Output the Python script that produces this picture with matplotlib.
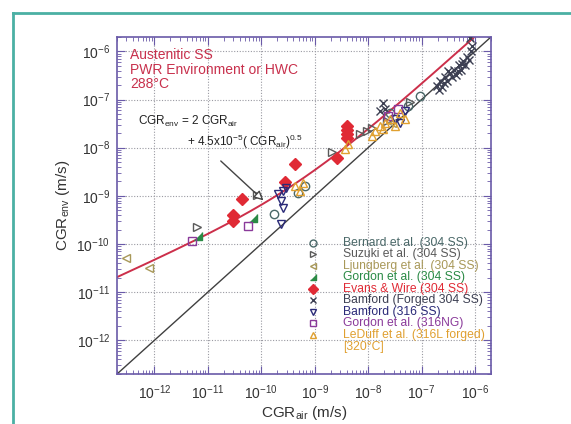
import numpy as np
import matplotlib
matplotlib.use("Agg")
import matplotlib.pyplot as plt
from matplotlib.lines import Line2D
from matplotlib.ticker import LogLocator, NullFormatter, LogFormatterSciNotation

plt.rcParams['font.family'] = ['Liberation Sans', 'DejaVu Sans']
plt.rcParams['mathtext.default'] = 'regular'

# data: (CGR_air, CGR_env) in m/s
bernard_x = [1.7e-10, 4.9e-10, 6.6e-10, 2.6e-8, 5.6e-8, 9.4e-8]
bernard_y = [4.2e-10, 1.15e-9, 1.6e-9, 5.2e-8, 7.3e-8, 1.17e-7]

suzuki_x = [6.3e-12, 8.5e-11, 2.1e-9, 7.1e-9, 9.5e-9, 1.2e-8, 2.3e-8, 6.1e-8]
suzuki_y = [2.3e-10, 1.05e-9, 8.1e-9, 1.9e-8, 2.2e-8, 2.6e-8, 3.5e-8, 9.1e-8]

ljungberg_x = [2.9e-13, 7.8e-13, 2.8e-8]
ljungberg_y = [5.1e-11, 3.2e-11, 3.2e-8]

gordon304_x = [6.6e-12, 7.1e-11]
gordon304_y = [1.5e-10, 3.5e-10]

evans_x = [4.4e-11, 2.9e-11, 2.9e-11, 2.8e-10, 4.2e-10, 2.6e-9, 4.1e-9, 4.1e-9, 4.1e-9, 4.1e-9]
evans_y = [8.7e-10, 4.0e-10, 3.0e-10, 1.9e-9, 4.6e-9, 6.0e-9, 2.8e-8, 2.3e-8, 1.9e-8, 1.6e-8]

bamford_f_x = [1.95e-7, 2.2e-7, 2.4e-7, 2.75e-7, 3.0e-7, 3.4e-7, 3.7e-7, 4.0e-7, 4.4e-7,
               5.0e-7, 5.5e-7, 6.0e-7, 6.5e-7, 7.1e-7, 7.7e-7, 8.4e-7, 8.8e-7, 8.1e-7,
               1.9e-8, 2.1e-8, 1.7e-8, 2.6e-7, 3.1e-7, 4.8e-7, 5.7e-7, 2.1e-7]
bamford_f_y = [1.88e-7, 2.4e-7, 1.8e-7, 2.9e-7, 2.4e-7, 3.5e-7, 2.9e-7, 4.2e-7, 3.3e-7,
               5.1e-7, 4.2e-7, 6.2e-7, 5.1e-7, 7.5e-7, 6.5e-7, 1.0e-6, 1.27e-6, 1.86e-6,
               8.4e-8, 6.3e-8, 5.7e-8, 2.2e-7, 3.9e-7, 4.0e-7, 5.4e-7, 1.6e-7]

bamford316_x = [2.1e-10, 2.5e-10, 2.9e-10, 2.3e-10, 2.5e-10, 2.3e-10, 3.2e-8, 4.9e-8, 4.0e-8]
bamford316_y = [1.1e-9, 1.26e-9, 1.46e-9, 7.8e-10, 5.6e-10, 2.6e-10, 3.9e-8, 5.7e-8, 3.2e-8]

gordon316_x = [5.1e-12, 5.7e-11, 2.4e-8, 3.6e-8]
gordon316_y = [1.16e-10, 2.4e-10, 4.5e-8, 6.3e-8]

leduff_x = [4.3e-10, 5.4e-10, 6.1e-10, 3.7e-9, 4.2e-9, 1.35e-8, 1.7e-8, 2.1e-8, 2.6e-8,
            3.2e-8, 4.0e-8, 4.9e-8, 1.19e-8, 1.9e-8]
leduff_y = [1.6e-9, 1.26e-9, 1.85e-9, 9.4e-9, 1.2e-8, 2.2e-8, 2.8e-8, 3.2e-8, 3.9e-8,
            2.8e-8, 5.2e-8, 3.9e-8, 1.74e-8, 2.4e-8]

decades = [1e-12, 1e-11, 1e-10, 1e-9, 1e-8, 1e-7, 1e-6]

# model curve: CGR_env = 2 CGR_air + 4.5e-5 CGR_air^0.5
coef_lin = 2.0
coef_sqrt = 4.5e-5

fig = plt.figure(figsize=(5.71, 4.24), dpi=100)
ax = fig.add_axes([0.205, 0.118, 0.655, 0.795])

lo, hi = 2e-13, 2e-6
xs = np.logspace(np.log10(lo), np.log10(hi), 300)
ax.plot(xs, xs, color='#404040', lw=1.0, zorder=2)
ax.plot(xs, coef_lin * xs + coef_sqrt * np.sqrt(xs), color='#cc2f4a', lw=1.4, zorder=2)

ms = 6
series = [
    (bernard_x, bernard_y, 'o', '#4a6868', 'none', 'Bernard et al. (304 SS)'),
    (suzuki_x, suzuki_y, '>', '#5a5a5a', 'none', 'Suzuki et al. (304 SS)'),
    (ljungberg_x, ljungberg_y, '<', '#a89858', 'none', 'Ljungberg et al. (304 SS)'),
    (gordon304_x, gordon304_y, [(-1, -1), (1, -1), (1, 1)], '#2a8a45', '#2a8a45', 'Gordon et al. (304 SS)'),
    (evans_x, evans_y, 'D', '#e02a35', '#e02a35', 'Evans & Wire (304 SS)'),
    (bamford_f_x, bamford_f_y, 'x', '#3c3f52', '#3c3f52', 'Bamford (Forged 304 SS)'),
    (bamford316_x, bamford316_y, 'v', '#2a2a78', 'none', 'Bamford (316 SS)'),
    (gordon316_x, gordon316_y, 's', '#8a3a9a', 'none', 'Gordon et al. (316NG)'),
    (leduff_x, leduff_y, '^', '#e0a030', 'none', 'LeDuff et al. (316L forged)\n[320°C]'),
]
leg_y0, leg_dy = 0.389, 0.0341
for i, (x, y, mk, col, fc, lab) in enumerate(series):
    ax.plot(x, y, linestyle='none', marker=mk, ms=ms, mec=col, mfc=fc, mew=1.0, zorder=3)
    # hand-made legend row
    yy = leg_y0 - i * leg_dy
    ax.plot([0.524], [yy], transform=ax.transAxes, linestyle='none', marker=mk, ms=5,
            mec=col, mfc=fc, mew=1.0, clip_on=False, zorder=5)
    if '\n' in lab:
        ax.text(0.604, yy + 0.018, lab, transform=ax.transAxes, color=col, fontsize=8.7,
                va='top', linespacing=1.05)
    else:
        ax.text(0.604, yy, lab, transform=ax.transAxes, color=col, fontsize=8.7, va='center')

ax.set_xscale('log')
ax.set_yscale('log')
ax.set_xlim(lo, hi)
ax.set_ylim(lo, hi)

spine_col = '#6a5aa8'
for s in ax.spines.values():
    s.set_color(spine_col)
    s.set_linewidth(1.2)
ax.set_xticks(decades)
ax.set_yticks(decades)
ax.xaxis.set_major_formatter(LogFormatterSciNotation())
ax.yaxis.set_major_formatter(LogFormatterSciNotation())
ax.xaxis.set_minor_locator(LogLocator(base=10, subs=np.arange(2, 10), numticks=20))
ax.yaxis.set_minor_locator(LogLocator(base=10, subs=np.arange(2, 10), numticks=20))
ax.xaxis.set_minor_formatter(NullFormatter())
ax.yaxis.set_minor_formatter(NullFormatter())
ax.tick_params(which='both', direction='in', top=True, right=True, color=spine_col)
ax.tick_params(which='major', length=6, labelsize=10, labelcolor='#333333', pad=5)
ax.tick_params(axis='x', which='major', pad=7)
ax.tick_params(which='minor', length=3)
ax.grid(True, which='major', linestyle=(0, (1, 1.5)), color='#9a9aa2', lw=0.8)

ax.set_xlabel('CGR$_{air}$ (m/s)', fontsize=11, color='#333333')
ax.set_ylabel('CGR$_{env}$ (m/s)', fontsize=11, color='#333333')
ax.xaxis.set_label_coords(0.5, -0.09)
ax.yaxis.set_label_coords(-0.12, 0.5)

red = '#c8304c'
ax.text(0.035, 0.947, 'Austenitic SS', transform=ax.transAxes, color=red, fontsize=10, va='center')
ax.text(0.035, 0.902, 'PWR Environment or HWC', transform=ax.transAxes, color=red, fontsize=10, va='center')
ax.text(0.035, 0.859, '288°C', transform=ax.transAxes, color=red, fontsize=10, va='center')
ax.text(0.055, 0.748, 'CGR$_{env}$ = 2 CGR$_{air}$', transform=ax.transAxes, color='#222222',
        fontsize=8.5, va='center')
ax.text(0.187, 0.688, '+ 4.5x10$^{-5}$( CGR$_{air}$)$^{0.5}$', transform=ax.transAxes,
        color='#222222', fontsize=8.5, va='center')
x_tip = 1.2e-10
ax.annotate('', xy=(x_tip, coef_lin * x_tip + coef_sqrt * np.sqrt(x_tip)), xytext=(1.6e-11, 5.8e-9),
            arrowprops=dict(arrowstyle='-|>', color='#444444', lw=1.0, fc='white',
                            mutation_scale=14), zorder=4)

teal = '#4bb0a4'
fig.add_artist(Line2D([13 / 571, 1], [1 - 13 / 424, 1 - 13 / 424], color=teal, lw=2.0))
fig.add_artist(Line2D([13 / 571, 13 / 571], [0, 1 - 13 / 424], color=teal, lw=2.0))

fig.savefig('out.png', dpi=100)
